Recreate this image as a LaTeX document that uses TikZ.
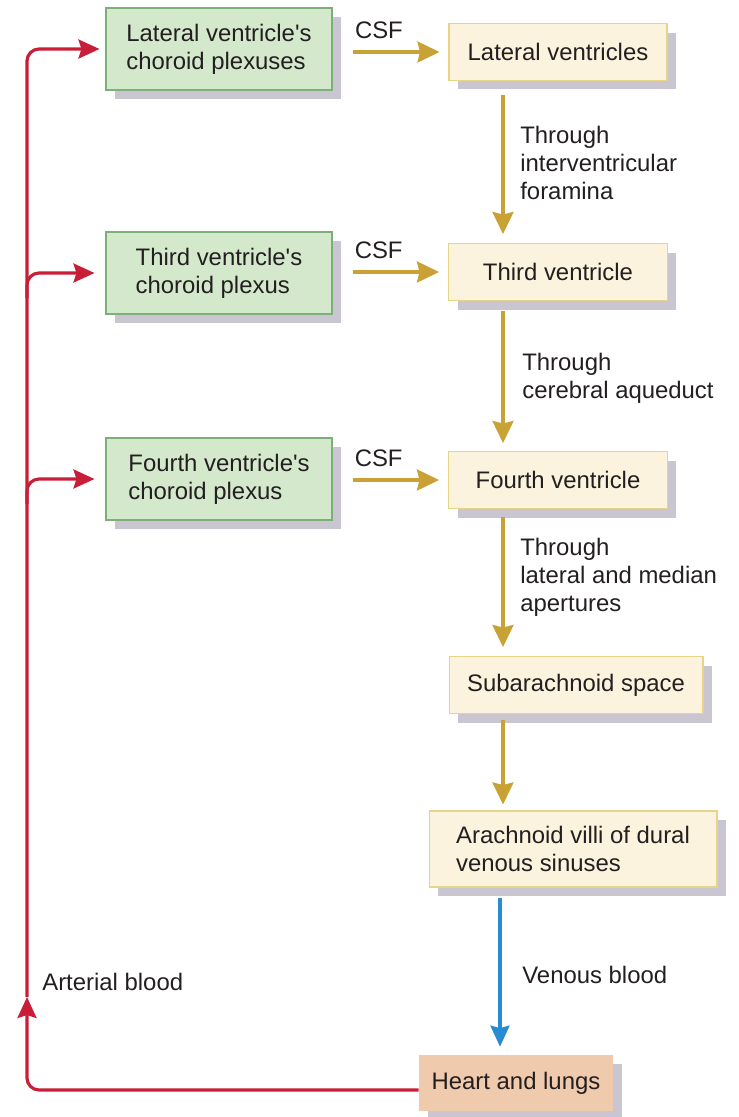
\documentclass[tikz,border=0pt]{standalone}
\usepackage{fontspec}
\setmainfont{Liberation Sans}
\usepackage{tikz}
\usetikzlibrary{arrows.meta, shadows, calc}
\definecolor{txtdark}{RGB}{35,31,32}
\definecolor{plexfill}{RGB}{212,232,204}
\definecolor{plexline}{RGB}{125,176,120}
\definecolor{cavfill}{RGB}{251,243,222}
\definecolor{cavline}{RGB}{232,212,135}
\definecolor{heartfill}{RGB}{240,202,172}
\definecolor{shadowgray}{RGB}{201,198,209}
\definecolor{csfgold}{RGB}{200,162,52}
\definecolor{artred}{RGB}{200,30,55}
\definecolor{veinblue}{RGB}{40,140,210}
\newcommand{\diagfont}{\fontsize{13.6pt}{16pt}\selectfont}
\newcommand{\apos}{\textquotesingle}
\tikzset{
  boxshadow/.style={drop shadow={shadow xshift=0.18cm, shadow yshift=-0.18cm,
    fill=shadowgray, opacity=1}},
  plexus/.style={rectangle, draw=plexline, fill=plexfill, align=left,
    minimum width=4.52cm, minimum height=1.64cm, line width=0.6pt,
    font=\diagfont, text=txtdark, boxshadow},
  cavity/.style={rectangle, draw=cavline, fill=cavfill, align=left,
    minimum height=1.14cm, line width=0.6pt, font=\diagfont, text=txtdark, boxshadow},
  heartbox/.style={rectangle, fill=heartfill, minimum width=3.88cm,
    minimum height=1.12cm, font=\diagfont, text=txtdark, boxshadow},
  csf/.style={-{Stealth[length=0.44cm, width=0.42cm, inset=0.05cm]},
    line width=1.8pt, color=csfgold},
  artery/.style={-{Stealth[length=0.42cm, width=0.38cm, inset=0.06cm]},
    line width=1.8pt, color=artred},
  vein/.style={-{Stealth[length=0.42cm, width=0.38cm, inset=0.05cm]},
    line width=1.8pt, color=veinblue},
  lbl/.style={anchor=west, inner sep=0pt, align=left, font=\diagfont, text=txtdark}
}

\begin{document}
\begin{tikzpicture}[x=0.02cm, y=-0.02cm]
  \useasboundingbox (0,0) rectangle (738,1117);

  % choroid plexuses
  \node[plexus] (gp1) at (219,49) {Lateral ventricle\apos s\\choroid plexuses};
  \node[plexus] (gp2) at (219,273) {Third ventricle\apos s\\choroid plexus};
  \node[plexus] (gp3) at (219,479) {Fourth ventricle\apos s\\choroid plexus};

  % ventricles and spaces
  \node[cavity, minimum width=4.36cm] (lv) at (558,52) {Lateral ventricles};
  \node[cavity, minimum width=4.38cm] (v3) at (558,272) {Third ventricle};
  \node[cavity, minimum width=4.38cm] (v4) at (558,480) {Fourth ventricle};
  \node[cavity, minimum width=5.08cm] (sub) at (576,685) {Subarachnoid space};
  \node[cavity, minimum width=5.76cm, minimum height=1.52cm] (arach) at (573,849)
    {Arachnoid villi of dural\\venous sinuses};
  \node[heartbox] (heart) at (516,1083) {Heart and lungs};

  \coordinate (col) at (503,0);
  \coordinate (trunk) at (27,0);
  \coordinate (artup) at (27,997);

  % CSF production
  \draw[csf, shorten <=0.4cm, shorten >=0.18cm] (gp1.east |- lv.west) -- (lv.west)
    node[pos=0.4, above=0.12cm, text=txtdark, font=\diagfont] (csf1) {CSF};
  \draw[csf, shorten <=0.4cm, shorten >=0.18cm] (gp2.east |- v3.west) -- (v3.west)
    node[pos=0.4, above=0.12cm, text=txtdark, font=\diagfont] (csf2) {CSF};
  \draw[csf, shorten <=0.4cm, shorten >=0.18cm] (gp3.east |- v4.west) -- (v4.west)
    node[pos=0.4, above=0.12cm, text=txtdark, font=\diagfont] (csf3) {CSF};

  % CSF pathway
  \draw[csf, shorten <=0.28cm, shorten >=0.18cm] (lv.south -| col) -- (v3.north -| col);
  \draw[csf, shorten <=0.2cm, shorten >=0.16cm] (v3.south -| col) -- (v4.north -| col);
  \draw[csf, shorten <=0.16cm, shorten >=0.18cm] (v4.south -| col) -- (sub.north -| col);
  \draw[csf, shorten <=0.12cm, shorten >=0.12cm] (sub.south -| col) -- (arach.north -| col);
  \draw[vein, shorten <=0.2cm, shorten >=0.16cm] ([xshift=-0.06cm]arach.south -| col)
    -- ([xshift=-0.06cm]heart.north -| col);

  \node[lbl] (thr1) at (520,163) {Through\\interventricular\\foramina};
  \node[lbl] (thr2) at (522,378) {Through\\cerebral aqueduct};
  \node[lbl] (thr3) at (520,577) {Through\\lateral and median\\apertures};
  \node[lbl] (venous) at (522,975) {Venous blood};
  \node[lbl] (arterial) at (42,982) {Arterial blood};

  % arterial supply
  \draw[artery, rounded corners=0.24cm] ([yshift=-0.14cm]heart.west) -| (artup);
  \draw[artery, rounded corners=0.24cm, shorten >=0.12cm] (artup) |- (gp1.west);
  \draw[artery, rounded corners=0.24cm, shorten >=0.22cm] ([yshift=-0.5cm]gp2.west -| trunk) |- (gp2.west);
  \draw[artery, rounded corners=0.24cm, shorten >=0.22cm] ([yshift=-0.5cm]gp3.west -| trunk) |- (gp3.west);
\end{tikzpicture}
\end{document}
